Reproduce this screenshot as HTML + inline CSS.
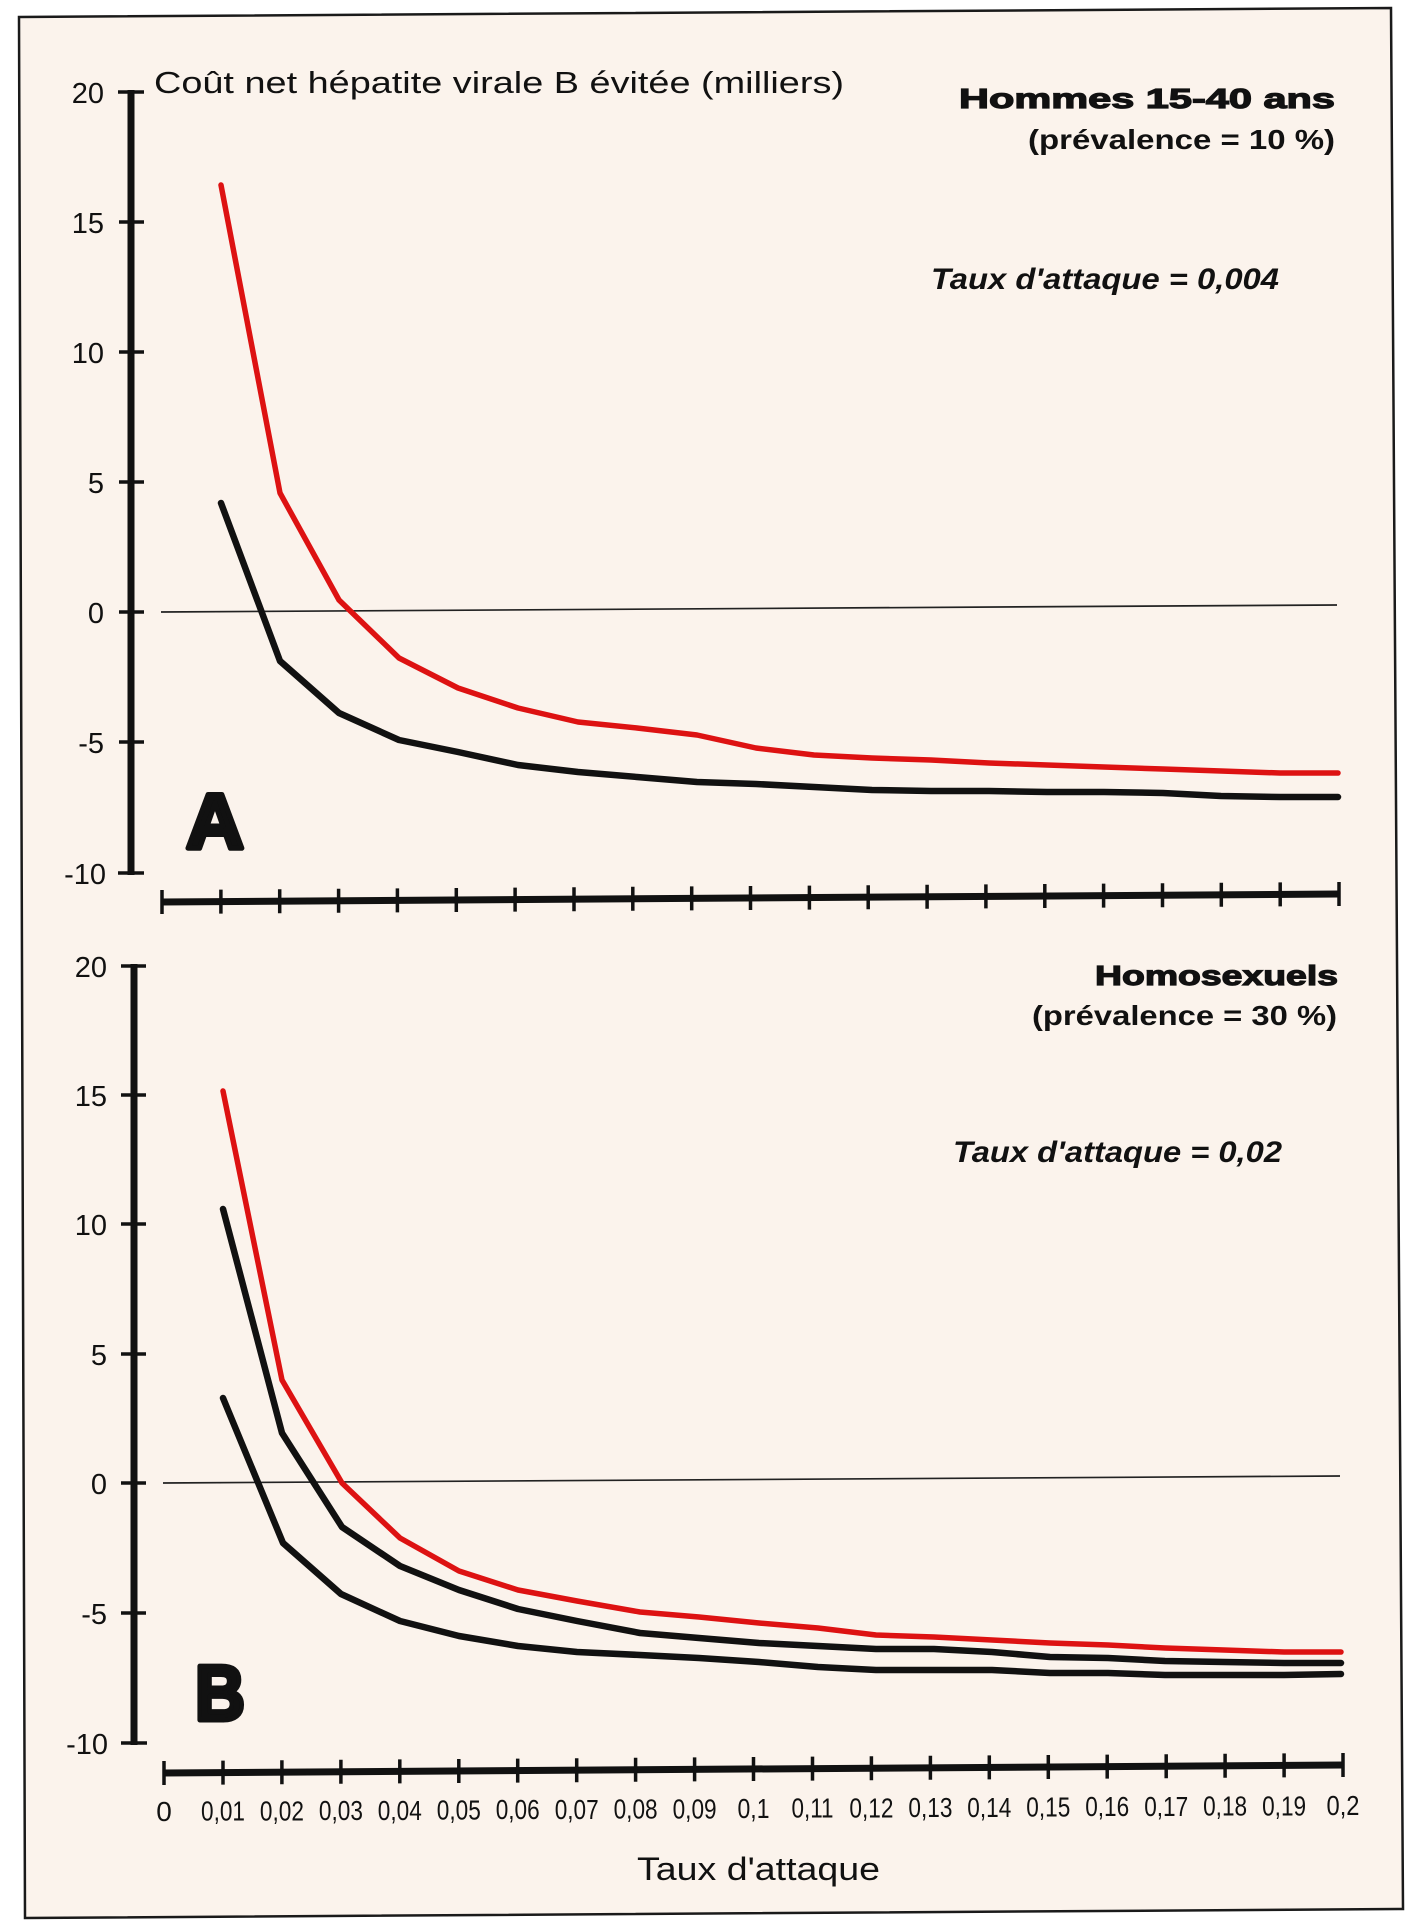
<!DOCTYPE html>
<html>
<head>
<meta charset="utf-8">
<style>
html,body{margin:0;padding:0;background:#ffffff;}
svg{display:block;}
text{font-family:"Liberation Sans",Arial,sans-serif;fill:#111;}
</style>
</head>
<body>
<svg width="1413" height="1928" viewBox="0 0 1413 1928" xmlns="http://www.w3.org/2000/svg">
  <!-- frame -->
  <polygon points="19,17 1391,8 1403,1909 25,1918" fill="#fbf3ec" stroke="#1a1a1a" stroke-width="2.5"/>

  <!-- ===== Panel A ===== -->
  <text x="154" y="93" font-size="31" textLength="690" lengthAdjust="spacingAndGlyphs">Coût net hépatite virale B évitée (milliers)</text>
  <text x="959" y="108" font-size="28" font-weight="bold" stroke="#111" stroke-width="1.2" textLength="376" lengthAdjust="spacingAndGlyphs">Hommes 15-40 ans</text>
  <text x="1028" y="149" font-size="28" font-weight="bold" textLength="307" lengthAdjust="spacingAndGlyphs">(prévalence = 10 %)</text>
  <text x="931" y="289" font-size="30" font-weight="bold" font-style="italic" textLength="348" lengthAdjust="spacingAndGlyphs">Taux d'attaque = 0,004</text>

  <!-- y axis A -->
  <line x1="131" y1="90" x2="131" y2="875" stroke="#111" stroke-width="7"/>
  <g stroke="#111" stroke-width="3.5">
    <line x1="118" y1="92" x2="144" y2="92"/>
    <line x1="119" y1="222" x2="144" y2="222"/>
    <line x1="119" y1="352" x2="144" y2="352"/>
    <line x1="119" y1="482" x2="144" y2="482"/>
    <line x1="119" y1="612" x2="144" y2="612"/>
    <line x1="119" y1="742" x2="144" y2="742"/>
    <line x1="118" y1="873" x2="144" y2="873"/>
  </g>
  <g font-size="29" text-anchor="end">
    <text x="104" y="103">20</text>
    <text x="104" y="233">15</text>
    <text x="104" y="363">10</text>
    <text x="104" y="493">5</text>
    <text x="104" y="623">0</text>
    <text x="104" y="753">-5</text>
    <text x="106" y="884">-10</text>
  </g>

  <!-- zero line A -->
  <line x1="161" y1="612" x2="1337" y2="605" stroke="#222" stroke-width="1.7"/>

  <!-- x axis A -->
  <line x1="162" y1="902" x2="1339" y2="894" stroke="#111" stroke-width="7"/>
  <path stroke="#111" stroke-width="3.5" fill="none" d="
M162,890V914 M220.9,889.6V913.6 M279.7,889.2V913.2 M338.6,888.8V912.8 M397.4,888.4V912.4
M456.3,888V912 M515.1,887.6V911.6 M574,887.2V911.2 M632.8,886.8V910.8 M691.7,886.4V910.4
M750.5,886V910 M809.4,885.6V909.6 M868.2,885.2V909.2 M927.1,884.8V908.8 M985.9,884.4V908.4
M1044.8,884V908 M1103.6,883.6V907.6 M1162.5,883.2V907.2 M1221.3,882.8V906.8 M1280.2,882.4V906.4 M1339,882V906"/>

  <!-- curves A -->
  <polyline fill="none" stroke="#111" stroke-width="6.5" stroke-linejoin="round" stroke-linecap="round" points="
221,503 280,661 339,713 399,740 458,752 518,765 578,772 637,777 697,782 756,784 814,787 872,790 931,791 989,791 1047,792 1104,792 1163,793 1221,796 1280,797 1338,797"/>
  <polyline fill="none" stroke="#dd1212" stroke-width="5.5" stroke-linejoin="round" stroke-linecap="round" points="
221,185 280,493 339,600 399,658 458,688 518,708 578,722 637,728 697,735 756,748 814,755 872,758 931,760 989,763 1047,765 1104,767 1163,769 1221,771 1280,773 1338,773"/>

  <text x="186" y="848" font-size="78" font-weight="bold" stroke="#111" stroke-width="5" stroke-linejoin="round" textLength="58" lengthAdjust="spacingAndGlyphs">A</text>

  <!-- ===== Panel B ===== -->
  <text x="1095" y="985" font-size="28" font-weight="bold" stroke="#111" stroke-width="1.2" textLength="243" lengthAdjust="spacingAndGlyphs">Homosexuels</text>
  <text x="1032" y="1025" font-size="28" font-weight="bold" textLength="305" lengthAdjust="spacingAndGlyphs">(prévalence = 30 %)</text>
  <text x="953" y="1162" font-size="30" font-weight="bold" font-style="italic" textLength="329" lengthAdjust="spacingAndGlyphs">Taux d'attaque = 0,02</text>

  <!-- y axis B -->
  <line x1="134" y1="964" x2="134" y2="1745" stroke="#111" stroke-width="7"/>
  <g stroke="#111" stroke-width="3.5">
    <line x1="121" y1="966" x2="146" y2="966"/>
    <line x1="121" y1="1095" x2="146" y2="1095"/>
    <line x1="121" y1="1224" x2="146" y2="1224"/>
    <line x1="121" y1="1354" x2="146" y2="1354"/>
    <line x1="121" y1="1483" x2="146" y2="1483"/>
    <line x1="121" y1="1613" x2="146" y2="1613"/>
    <line x1="121" y1="1743" x2="147" y2="1743"/>
  </g>
  <g font-size="29" text-anchor="end">
    <text x="107" y="977">20</text>
    <text x="107" y="1106">15</text>
    <text x="107" y="1235">10</text>
    <text x="107" y="1365">5</text>
    <text x="107" y="1494">0</text>
    <text x="107" y="1624">-5</text>
    <text x="108" y="1754">-10</text>
  </g>

  <!-- zero line B -->
  <line x1="163" y1="1483" x2="1340" y2="1476" stroke="#222" stroke-width="1.7"/>

  <!-- x axis B -->
  <line x1="164" y1="1773" x2="1343" y2="1765" stroke="#111" stroke-width="7"/>
  <path stroke="#111" stroke-width="3.5" fill="none" d="
M164,1761V1785 M223,1760.6V1784.6 M281.9,1760.2V1784.2 M340.9,1759.8V1783.8 M399.8,1759.4V1783.4
M458.8,1759V1783 M517.7,1758.6V1782.6 M576.7,1758.2V1782.2 M635.6,1757.8V1781.8 M694.6,1757.4V1781.4
M753.5,1757V1781 M812.5,1756.6V1780.6 M871.4,1756.2V1780.2 M930.4,1755.8V1779.8 M989.3,1755.4V1779.4
M1048.3,1755V1779 M1107.2,1754.6V1778.6 M1166.2,1754.2V1778.2 M1225.1,1753.8V1777.8 M1284.1,1753.4V1777.4 M1343,1753V1777"/>

  <g font-size="28" text-anchor="middle">
    <text x="164" y="1821">0</text>
    <text x="223" y="1820.7" textLength="44" lengthAdjust="spacingAndGlyphs">0,01</text>
    <text x="281.9" y="1820.4" textLength="44" lengthAdjust="spacingAndGlyphs">0,02</text>
    <text x="340.9" y="1820.1" textLength="44" lengthAdjust="spacingAndGlyphs">0,03</text>
    <text x="399.8" y="1819.8" textLength="44" lengthAdjust="spacingAndGlyphs">0,04</text>
    <text x="458.8" y="1819.5" textLength="44" lengthAdjust="spacingAndGlyphs">0,05</text>
    <text x="517.7" y="1819.2" textLength="44" lengthAdjust="spacingAndGlyphs">0,06</text>
    <text x="576.7" y="1818.9" textLength="44" lengthAdjust="spacingAndGlyphs">0,07</text>
    <text x="635.6" y="1818.6" textLength="44" lengthAdjust="spacingAndGlyphs">0,08</text>
    <text x="694.6" y="1818.3" textLength="44" lengthAdjust="spacingAndGlyphs">0,09</text>
    <text x="753.5" y="1818" textLength="32" lengthAdjust="spacingAndGlyphs">0,1</text>
    <text x="812.5" y="1817.7" textLength="42" lengthAdjust="spacingAndGlyphs">0,11</text>
    <text x="871.4" y="1817.4" textLength="44" lengthAdjust="spacingAndGlyphs">0,12</text>
    <text x="930.4" y="1817.1" textLength="44" lengthAdjust="spacingAndGlyphs">0,13</text>
    <text x="989.3" y="1816.8" textLength="44" lengthAdjust="spacingAndGlyphs">0,14</text>
    <text x="1048.3" y="1816.5" textLength="44" lengthAdjust="spacingAndGlyphs">0,15</text>
    <text x="1107.2" y="1816.2" textLength="44" lengthAdjust="spacingAndGlyphs">0,16</text>
    <text x="1166.2" y="1815.9" textLength="44" lengthAdjust="spacingAndGlyphs">0,17</text>
    <text x="1225.1" y="1815.6" textLength="44" lengthAdjust="spacingAndGlyphs">0,18</text>
    <text x="1284.1" y="1815.3" textLength="44" lengthAdjust="spacingAndGlyphs">0,19</text>
    <text x="1343" y="1815" textLength="33" lengthAdjust="spacingAndGlyphs">0,2</text>
  </g>

  <text x="637" y="1880" font-size="32" textLength="243" lengthAdjust="spacingAndGlyphs">Taux d'attaque</text>

  <!-- curves B -->
  <polyline fill="none" stroke="#111" stroke-width="6.5" stroke-linejoin="round" stroke-linecap="round" points="
223,1398 283,1543 341,1594 400,1621 459,1636 518,1646 577,1652 640,1655 699,1658 759,1662 818,1667 876,1670 934,1670 992,1670 1050,1673 1108,1673 1165,1675 1224,1675 1284,1675 1341,1674"/>
  <polyline fill="none" stroke="#111" stroke-width="6.5" stroke-linejoin="round" stroke-linecap="round" points="
223,1209 282,1433 342,1527 400,1566 459,1590 518,1609 577,1621 640,1633 699,1638 759,1643 818,1646 876,1649 934,1649 992,1652 1050,1657 1108,1658 1165,1661 1224,1662 1284,1663 1341,1663"/>
  <polyline fill="none" stroke="#dd1212" stroke-width="5.5" stroke-linejoin="round" stroke-linecap="round" points="
223,1091 282,1380 342,1483 400,1538 459,1571 518,1590 577,1601 640,1612 699,1617 759,1623 818,1628 876,1635 934,1637 992,1640 1050,1643 1108,1645 1165,1648 1224,1650 1284,1652 1341,1652"/>

  <text x="195" y="1720" font-size="78" font-weight="bold" stroke="#111" stroke-width="5" stroke-linejoin="round" textLength="50" lengthAdjust="spacingAndGlyphs">B</text>
</svg>
</body>
</html>
